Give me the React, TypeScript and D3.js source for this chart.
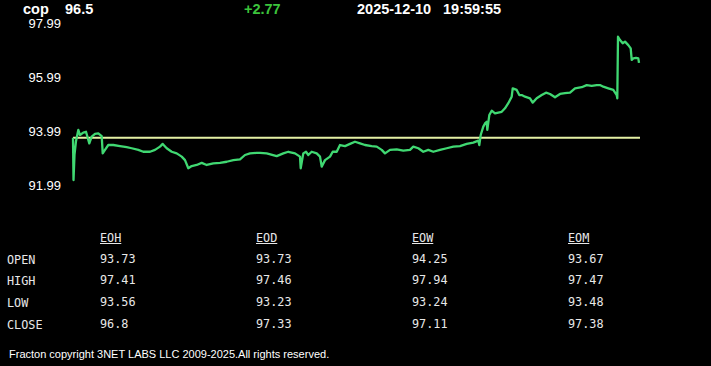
import React from "react";
import * as d3 from "d3";

const symbol = "cop";
const lastPrice = "96.5";
const change = "+2.77";
const dateStr = "2025-12-10";
const timeStr = "19:59:55";

const yTicks = [97.99, 95.99, 93.99, 91.99];
const refValue = 93.73;

// time position (ticks since session start) and price
const times = [
  0, 0.5, 1.5, 3, 5.3, 7, 10.3, 13, 16.3, 18.7, 22, 25.3, 28.7, 29.7, 32, 35.3, 40.3, 47, 53.7, 58.7,
  65.3, 70.3, 77, 82, 87, 89.7, 93.7, 98.7, 103.7, 108.7, 112, 115.3, 118.7, 123.7, 128.7, 133.7, 140.3, 147, 153.7, 160.3,
  167, 172, 177, 183.7, 187, 193.7, 203.7, 210.3, 215.3, 222, 227, 227.7, 230.3, 233, 235.3, 238.7, 243.7, 247, 248.7, 252,
  257, 259.7, 263.7, 267, 272, 277, 282, 287, 292, 298.7, 303.7, 308.7, 312, 317, 323.7, 330.3, 337, 340.3, 345.3, 350.3,
  355.3, 360.3, 367, 373.7, 380.3, 387, 393.7, 400.3, 405.3, 406.3, 407.7, 410.3, 412, 413.7, 414.3, 416.3, 418.7, 422, 425.3, 428.7,
  432, 435.3, 438.7, 439.7, 443.7, 446.3, 448.7, 452, 457, 459.7, 463.7, 468.7, 473, 477, 482, 487, 492, 497, 502, 508.7,
  513.7, 518.7, 523.7, 527, 530.3, 535.3, 540.3, 543.7, 544.3, 545, 547, 549.7, 552, 555.3, 557.7, 558.7, 560.3, 563, 565.3, 566,
];
const prices = [
  93.73, 92.16, 93.10, 93.60, 94.02, 93.83, 93.92, 93.95, 93.52, 93.77, 93.87, 93.89, 93.79, 93.15, 93.28, 93.46, 93.46, 93.42, 93.38, 93.34,
  93.28, 93.21, 93.21, 93.28, 93.40, 93.50, 93.34, 93.21, 93.15, 93.03, 92.90, 92.60, 92.68, 92.72, 92.80, 92.72, 92.78, 92.80, 92.84, 92.90,
  92.93, 93.09, 93.15, 93.17, 93.17, 93.15, 93.05, 93.15, 93.21, 93.15, 93.03, 92.60, 93.15, 93.21, 93.09, 93.21, 93.15, 93.03, 92.66, 92.90,
  93.03, 93.21, 93.21, 93.46, 93.42, 93.50, 93.58, 93.52, 93.46, 93.42, 93.40, 93.28, 93.15, 93.28, 93.30, 93.25, 93.28, 93.40, 93.34, 93.21,
  93.28, 93.21, 93.28, 93.34, 93.40, 93.42, 93.50, 93.55, 93.62, 93.46, 93.83, 94.14, 94.26, 94.32, 94.02, 94.57, 94.73, 94.63, 94.66, 94.69,
  94.82, 95.01, 95.25, 95.56, 95.50, 95.31, 95.31, 95.25, 95.19, 95.03, 95.19, 95.31, 95.40, 95.35, 95.23, 95.35, 95.38, 95.40, 95.56, 95.60,
  95.68, 95.65, 95.68, 95.68, 95.62, 95.56, 95.50, 95.31, 95.19, 97.47, 97.35, 97.23, 97.29, 97.16, 97.04, 96.61, 96.67, 96.69, 96.67, 96.50,
];

const columns = ["EOH", "EOD", "EOW", "EOM"];
const rowLabels = ["OPEN", "HIGH", "LOW", "CLOSE"];
const eohValues = ["93.73", "97.41", "93.56", "96.8"];
const eodValues = ["93.73", "97.46", "93.23", "97.33"];
const eowValues = ["94.25", "97.94", "93.24", "97.11"];
const eomValues = ["93.67", "97.47", "93.48", "97.38"];
const tableValues = [eohValues, eodValues, eowValues, eomValues];

const footer = "Fracton copyright 3NET LABS LLC 2009-2025.All rights reserved.";

export default function App() {
  const W = 711;
  const H = 366;
  const x = d3.scaleLinear().domain([0, 566]).range([73, 639]);
  const y = d3.scaleLinear().domain([91.99, 97.99]).range([184.7, 22.7]);
  const pts: [number, number][] = times.map((t, i) => [t, prices[i]]);
  const line = d3
    .line<[number, number]>()
    .x((d) => x(d[0]))
    .y((d) => y(d[1]));

  const colX = [100, 256, 412, 568];
  const rowY = [263, 284, 306, 328];
  const mono = "'DejaVu Sans Mono', monospace";
  const sans = "Arial, 'Liberation Sans', sans-serif";

  return (
    <svg
      width={W}
      height={H}
      style={{ position: "absolute", left: 0, top: 0, background: "#000", display: "block" }}
    >
      <rect x={0} y={0} width={W} height={H} fill="#000" />
      <g fontFamily={sans} fontWeight="bold" fontSize={14.5} fill="#fff">
        <text x={23} y={14}>{symbol}</text>
        <text x={65} y={14}>{lastPrice}</text>
        <text x={244} y={14} fill="#3cc43c">{change}</text>
        <text x={357} y={14}>{dateStr}</text>
        <text x={443} y={14}>{timeStr}</text>
      </g>
      <g fontFamily={sans} fontSize={13} fill="#fff" textAnchor="end">
        {yTicks.map((v) => (
          <text key={v} x={61} y={y(v) + 5.2}>
            {v.toFixed(2)}
          </text>
        ))}
      </g>
      <line
        x1={x(0)}
        x2={x(567)}
        y1={y(refValue)}
        y2={y(refValue)}
        stroke="#e4f0a4"
        strokeWidth={2}
      />
      <path
        d={line(pts) || ""}
        fill="none"
        stroke="#40d872"
        strokeWidth={2.3}
        strokeLinejoin="round"
      />
      <g fontFamily={mono} fontSize={11.8} fill="#e8e8e8">
        {columns.map((c, i) => (
          <g key={c}>
            <text x={colX[i]} y={242}>{c}</text>
            <line
              x1={colX[i]}
              x2={colX[i] + c.length * 7.1}
              y1={243.5}
              y2={243.5}
              stroke="#e8e8e8"
              strokeWidth={1}
            />
          </g>
        ))}
        {rowLabels.map((r, j) => (
          <text key={r} x={7} y={rowY[j] + 1}>{r}</text>
        ))}
        {tableValues.map((col, i) =>
          col.map((v, j) => (
            <text key={i + "-" + j} x={colX[i]} y={rowY[j]}>
              {v}
            </text>
          ))
        )}
      </g>
      <text x={9} y={358} fontFamily={sans} fontSize={11} fill="#fff">
        {footer}
      </text>
    </svg>
  );
}
